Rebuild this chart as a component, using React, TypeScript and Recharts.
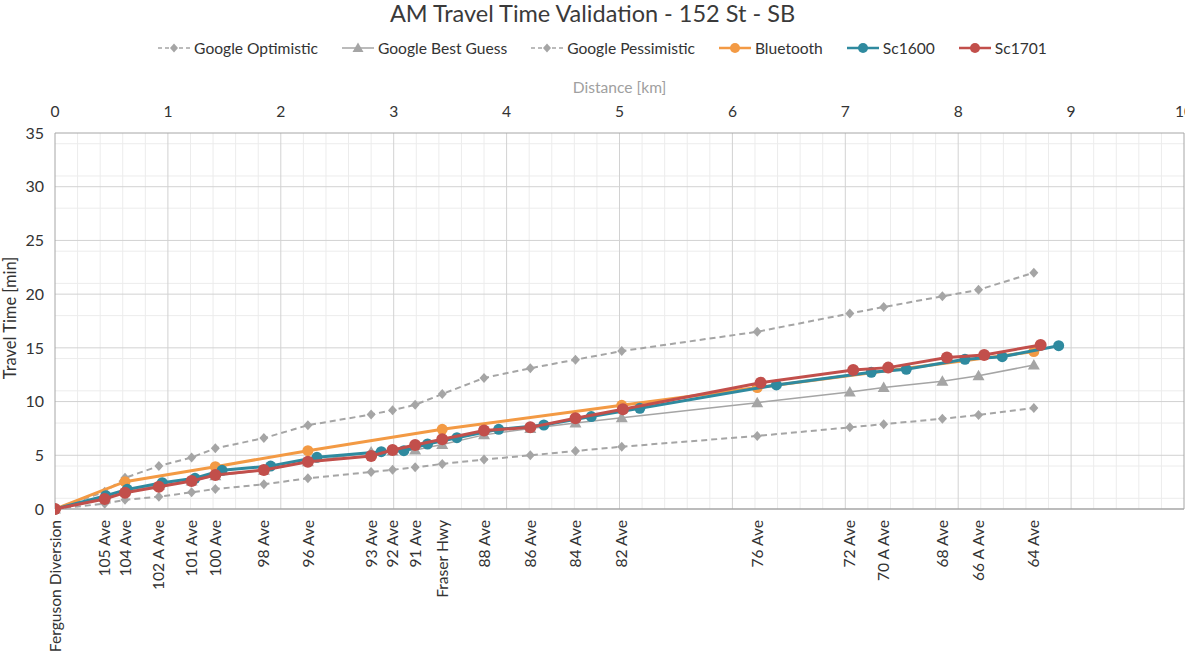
import React from "react";
import {
  ScatterChart,
  Scatter,
  XAxis,
  YAxis,
  CartesianGrid,
  ReferenceLine,
} from "recharts";

// Street names along 152 St and their distance from Ferguson Diversion [km]
const streetNames = [
  "Ferguson Diversion", "105 Ave", "104 Ave", "102 A Ave", "101 Ave", "100 Ave",
  "98 Ave", "96 Ave", "93 Ave", "92 Ave", "91 Ave", "Fraser Hwy", "88 Ave",
  "86 Ave", "84 Ave", "82 Ave", "76 Ave", "72 Ave", "70 A Ave", "68 Ave",
  "66 A Ave", "64 Ave",
];
const streetKm = [
  0, 0.44, 0.62, 0.92, 1.21, 1.42, 1.85, 2.24, 2.8, 2.99, 3.19, 3.43, 3.8,
  4.21, 4.61, 5.02, 6.22, 7.04, 7.34, 7.86, 8.18, 8.67,
];

// Google travel times at each street [min]
const optimisticMin = [
  0, 0.5, 0.85, 1.15, 1.55, 1.86, 2.3, 2.86, 3.45, 3.65, 3.88, 4.2, 4.6, 5.0,
  5.4, 5.8, 6.8, 7.6, 7.9, 8.4, 8.75, 9.4,
];
const bestGuessMin = [
  0, 1.1, 1.7, 2.2, 2.6, 3.1, 3.6, 4.4, 5.3, 5.4, 5.5, 6.0, 6.9, 7.5, 8.0,
  8.5, 9.9, 10.9, 11.3, 11.9, 12.4, 13.4,
];
const pessimisticMin = [
  0, 1.6, 2.9, 4.0, 4.8, 5.65, 6.6, 7.8, 8.8, 9.2, 9.7, 10.7, 12.2, 13.1, 13.9,
  14.7, 16.5, 18.2, 18.8, 19.8, 20.4, 22.0,
];

// Bluetooth observations
const bluetoothKm = [0, 0.62, 1.42, 2.24, 3.43, 5.02, 6.22, 8.67];
const bluetoothMin = [0, 2.54, 3.94, 5.43, 7.42, 9.65, 11.3, 14.65];

// Simulation scenarios
const sc1600Km = [
  0, 0.45, 0.64, 0.95, 1.24, 1.48, 1.91, 2.32, 2.89, 3.09, 3.3, 3.56, 3.93,
  4.33, 4.75, 5.18, 6.39, 7.23, 7.54, 8.06, 8.39, 8.89,
];
const sc1600Min = [
  0, 1.24, 1.83, 2.45, 2.86, 3.6, 4.0, 4.81, 5.34, 5.43, 6.05, 6.64, 7.42,
  7.82, 8.6, 9.37, 11.55, 12.72, 13.0, 13.94, 14.18, 15.2,
];
const sc1701Km = [
  0, 0.44, 0.62, 0.92, 1.21, 1.42, 1.85, 2.24, 2.8, 2.99, 3.19, 3.43, 3.8,
  4.21, 4.61, 5.03, 6.25, 7.07, 7.38, 7.9, 8.23, 8.73,
];
const sc1701Min = [
  0, 0.93, 1.52, 2.08, 2.6, 3.17, 3.63, 4.4, 4.93, 5.49, 5.96, 6.5, 7.3, 7.6,
  8.44, 9.28, 11.76, 12.94, 13.16, 14.1, 14.34, 15.27,
];

const distanceTicks = [0, 1, 2, 3, 4, 5, 6, 7, 8, 9, 10];
const timeTicks = [0, 5, 10, 15, 20, 25, 30, 35];

const GRAY = "#a5a5a5";
const ORANGE = "#f39a44";
const TEAL = "#2f8a9f";
const RED = "#c24f4b";
const FONT = "Lato, 'Open Sans', sans-serif";
const TXT = 15.6;

const zip = (xs: number[], ys: number[]) => xs.map((x, i) => ({ x, y: ys[i] }));

const optimisticData = zip(streetKm, optimisticMin);
const bestGuessData = zip(streetKm, bestGuessMin);
const pessimisticData = zip(streetKm, pessimisticMin);
const bluetoothData = zip(bluetoothKm, bluetoothMin);
const sc1600Data = zip(sc1600Km, sc1600Min);
const sc1701Data = zip(sc1701Km, sc1701Min);

const minorX: number[] = [];
for (let i = 1; i < 50; i++) if (i % 5 !== 0) minorX.push(i / 5);
const majorX = [1, 2, 3, 4, 5, 6, 7, 8, 9];
const minorY: number[] = [];
for (let i = 1; i < 35; i++) if (i % 5 !== 0) minorY.push(i);
const majorY = [5, 10, 15, 20, 25, 30];

const diamond = (color: string) => (p: any) => (
  <path
    d={`M${p.cx},${p.cy - 5}L${p.cx + 4.5},${p.cy}L${p.cx},${p.cy + 5}L${p.cx - 4.5},${p.cy}Z`}
    fill={color}
  />
);
const triangle = (color: string) => (p: any) => (
  <path
    d={`M${p.cx},${p.cy - 6}L${p.cx + 6},${p.cy + 4.5}L${p.cx - 6},${p.cy + 4.5}Z`}
    fill={color}
  />
);
const dot = (color: string, r: number) => (p: any) => (
  <circle cx={p.cx} cy={p.cy} r={r} fill={color} />
);

const StreetTick = (props: any) => {
  const { x, y, payload } = props;
  const idx = streetKm.indexOf(payload.value);
  return (
    <text
      x={x}
      y={y}
      dy="0.36em"
      transform={`rotate(-90, ${x}, ${y})`}
      textAnchor="end"
      fontSize={TXT}
      fontFamily={FONT}
      fill="#333"
    >
      {streetNames[idx]}
    </text>
  );
};

const legendItems = [
  { name: "Google Optimistic", color: GRAY, dash: "4 3", marker: "diamond" },
  { name: "Google Best Guess", color: GRAY, dash: undefined, marker: "triangle" },
  { name: "Google Pessimistic", color: GRAY, dash: "4 3", marker: "diamond" },
  { name: "Bluetooth", color: ORANGE, dash: undefined, marker: "circle" },
  { name: "Sc1600", color: TEAL, dash: undefined, marker: "circle" },
  { name: "Sc1701", color: RED, dash: undefined, marker: "circle" },
];

function LegendIcon({ color, dash, marker }: { color: string; dash?: string; marker: string }) {
  return (
    <svg width={32} height={14} style={{ display: "block" }}>
      <line x1={0} y1={7} x2={32} y2={7} stroke={color} strokeWidth={marker === "circle" ? 2.5 : 1.5} strokeDasharray={dash} />
      {marker === "diamond" && <path d="M16,2.5L20,7L16,11.5L12,7Z" fill={color} />}
      {marker === "triangle" && <path d="M16,1.5L21.5,11L10.5,11Z" fill={color} />}
      {marker === "circle" && <circle cx={16} cy={7} r={5} fill={color} />}
    </svg>
  );
}

export default function App() {
  return (
    <div
      style={{
        position: "absolute",
        left: 0,
        top: 0,
        width: 1185,
        height: 651,
        overflow: "hidden",
        background: "#fff",
        fontFamily: FONT,
      }}
    >
      <div
        style={{
          position: "absolute",
          top: -1,
          left: 0,
          width: 1185,
          textAlign: "center",
          fontSize: 23.5,
          color: "#3a3a3a",
        }}
      >
        AM Travel Time Validation - 152 St - SB
      </div>
      <div
        style={{
          position: "absolute",
          top: 39,
          left: 10,
          width: 1185,
          display: "flex",
          justifyContent: "center",
          gap: 24,
          fontSize: TXT,
          color: "#333",
        }}
      >
        {legendItems.map((it) => (
          <div key={it.name} style={{ display: "flex", alignItems: "center", gap: 4 }}>
            <LegendIcon color={it.color} dash={it.dash} marker={it.marker} />
            <span>{it.name}</span>
          </div>
        ))}
      </div>
      <div
        style={{
          position: "absolute",
          top: 78,
          left: 55,
          width: 1129,
          textAlign: "center",
          fontSize: TXT,
          color: "#a0a0a0",
        }}
      >
        Distance [km]
      </div>
      <div
        style={{
          position: "absolute",
          left: 10,
          top: 318,
          transform: "translate(-50%, -50%) rotate(-90deg)",
          whiteSpace: "nowrap",
          fontSize: 16.5,
          color: "#333",
        }}
      >
        Travel Time [min]
      </div>
      <div style={{ position: "absolute", left: 0, top: 0 }}>
        <ScatterChart
          width={1200}
          height={651}
          margin={{ top: 103, right: 16, bottom: 0, left: 0 }}
        >
          <CartesianGrid
            xAxisId="bottom"
            stroke="#ececec"
            verticalValues={minorX}
            horizontalValues={minorY}
          />
          <CartesianGrid
            xAxisId="bottom"
            stroke="#d2d2d2"
            verticalValues={majorX}
            horizontalValues={majorY}
          />
          <XAxis
            xAxisId="top"
            orientation="top"
            type="number"
            dataKey="x"
            domain={[0, 10]}
            ticks={distanceTicks}
            allowDataOverflow
            height={30}
            tickSize={0}
            tickMargin={16}
            tick={{ fontSize: TXT, fill: "#333", fontFamily: FONT }}
            axisLine={{ stroke: "#a6a6a6" }}
          />
          <XAxis
            xAxisId="bottom"
            orientation="bottom"
            type="number"
            dataKey="x"
            domain={[0, 10]}
            ticks={streetKm}
            interval={0}
            allowDataOverflow
            height={142}
            tickSize={0}
            tickMargin={11}
            tick={<StreetTick />}
            axisLine={{ stroke: "#a6a6a6", strokeWidth: 1.5 }}
          />
          <YAxis
            type="number"
            dataKey="y"
            domain={[0, 35]}
            ticks={timeTicks}
            width={55}
            tickSize={0}
            tickMargin={11}
            tick={{ fontSize: 16, fill: "#333", fontFamily: FONT }}
            axisLine={{ stroke: "#a6a6a6" }}
          />
          <ReferenceLine xAxisId="bottom" x={10} stroke="#a6a6a6" />
          <Scatter
            name="Google Optimistic"
            xAxisId="bottom"
            data={optimisticData}
            line={{ stroke: GRAY, strokeWidth: 2, strokeDasharray: "6 4" }}
            lineType="joint"
            shape={diamond(GRAY)}
            isAnimationActive={false}
          />
          <Scatter
            name="Google Best Guess"
            xAxisId="bottom"
            data={bestGuessData}
            line={{ stroke: GRAY, strokeWidth: 1.5 }}
            lineType="joint"
            shape={triangle(GRAY)}
            isAnimationActive={false}
          />
          <Scatter
            name="Google Pessimistic"
            xAxisId="bottom"
            data={pessimisticData}
            line={{ stroke: GRAY, strokeWidth: 2, strokeDasharray: "6 4" }}
            lineType="joint"
            shape={diamond(GRAY)}
            isAnimationActive={false}
          />
          <Scatter
            name="Bluetooth"
            xAxisId="bottom"
            data={bluetoothData}
            line={{ stroke: ORANGE, strokeWidth: 3 }}
            lineType="joint"
            shape={dot(ORANGE, 5.5)}
            isAnimationActive={false}
          />
          <Scatter
            name="Sc1600"
            xAxisId="bottom"
            data={sc1600Data}
            line={{ stroke: TEAL, strokeWidth: 3 }}
            lineType="joint"
            shape={dot(TEAL, 5.5)}
            isAnimationActive={false}
          />
          <Scatter
            name="Sc1701"
            xAxisId="bottom"
            data={sc1701Data}
            line={{ stroke: RED, strokeWidth: 3 }}
            lineType="joint"
            shape={dot(RED, 6)}
            isAnimationActive={false}
          />
        </ScatterChart>
      </div>
    </div>
  );
}
